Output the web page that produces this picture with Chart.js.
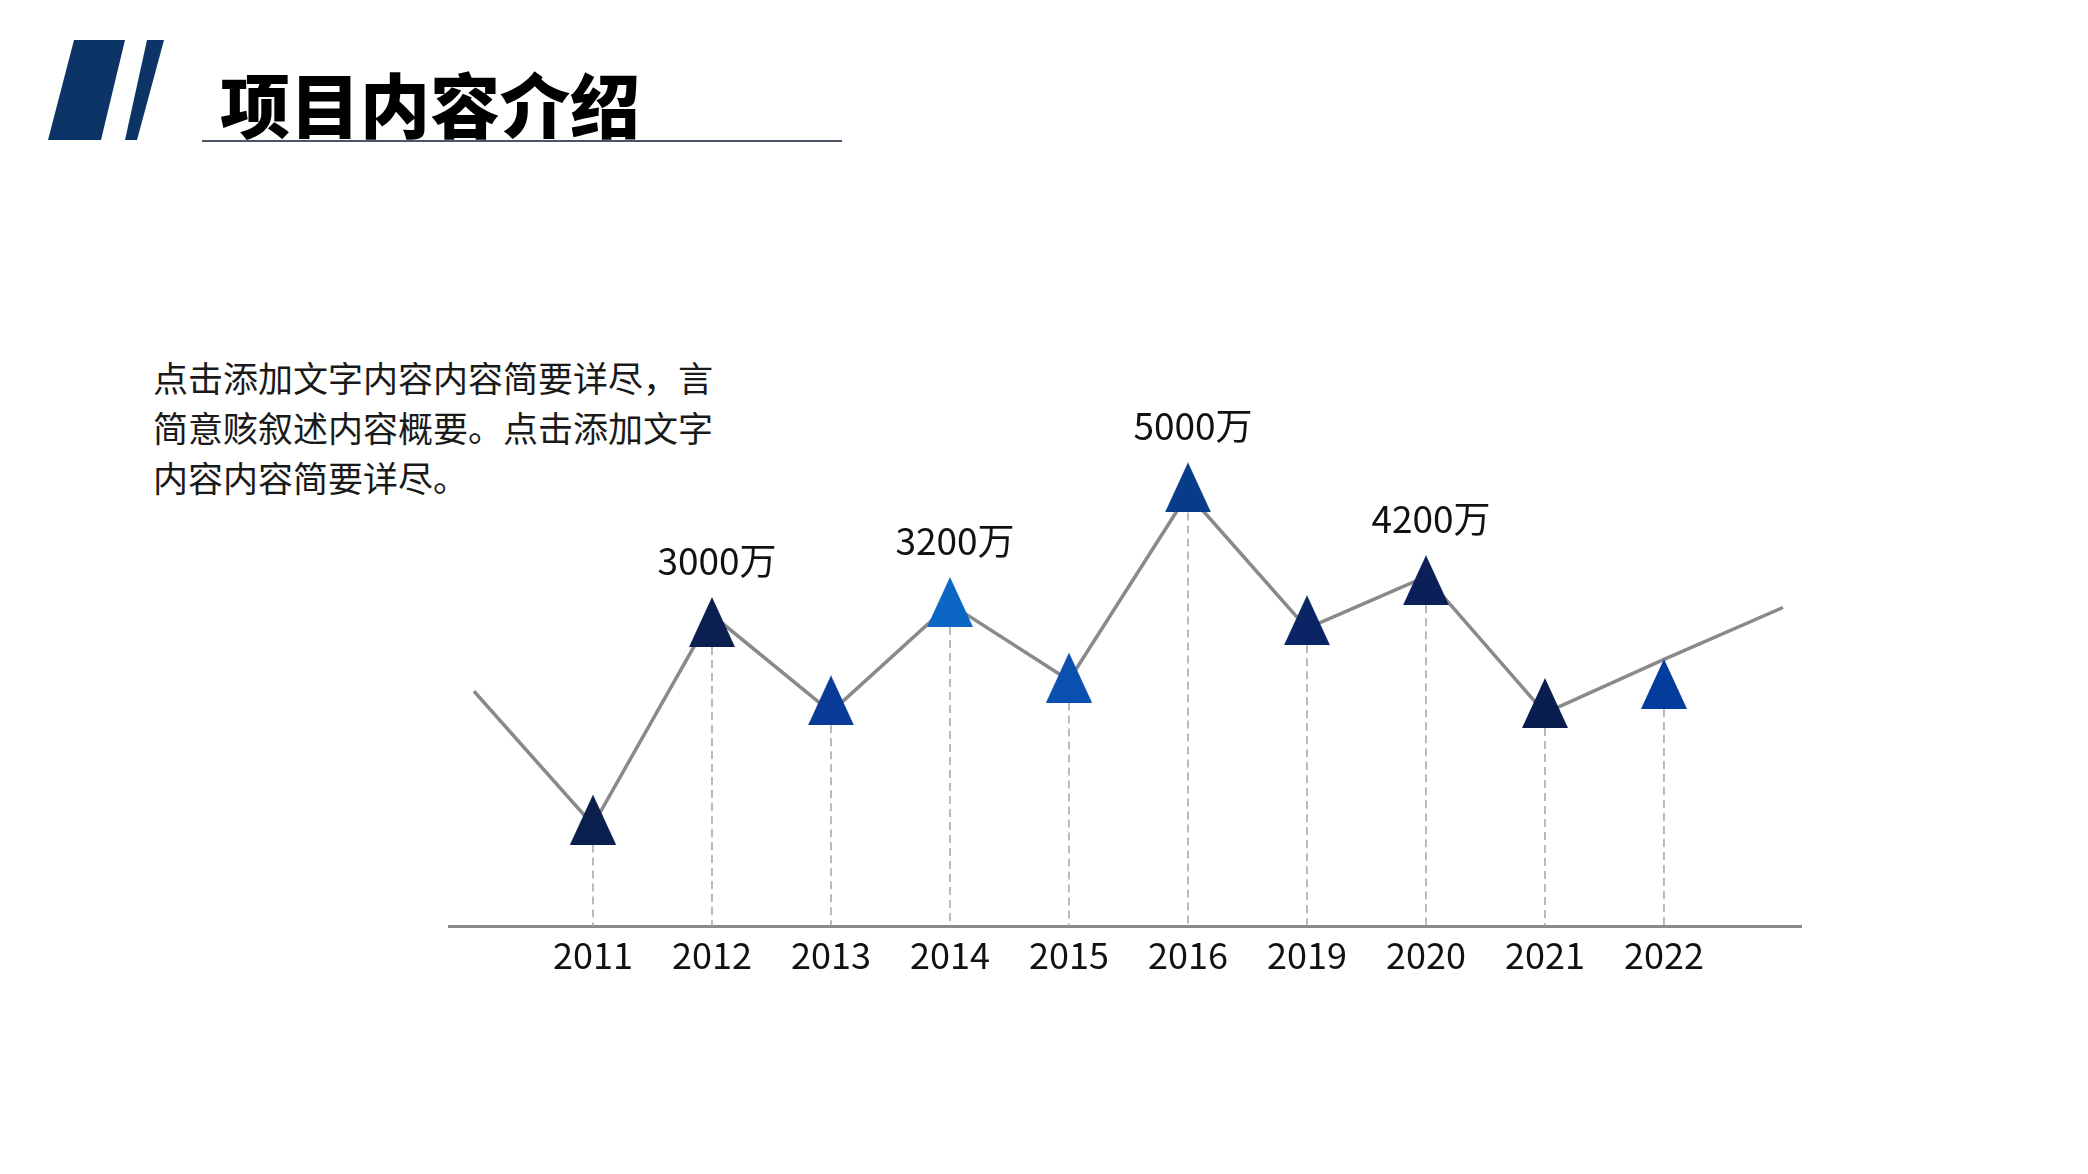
<!DOCTYPE html>
<html lang="zh">
<head>
    <meta charset="UTF-8">
    <title>项目内容介绍</title>
    <script src="https://cdn.jsdelivr.net/npm/chart.js"></script>
    <style>
        html, body { margin: 0; padding: 0; background: #fff; }
        body { width: 2088px; height: 1174px; position: relative; overflow: hidden;
               font-family: "Noto Sans CJK SC", "Noto Sans", sans-serif; }
        #logo { position: absolute; left: 0; top: 0; }
        #title { position: absolute; left: 220px; top: 68px; font-size: 70px; line-height: 1;
                 font-weight: 900; color: #000; letter-spacing: 0; }
        #underline { position: absolute; left: 202px; top: 140px; width: 640px; height: 2px; background: #4a5566; }
        #desc { position: absolute; left: 153px; top: 352px; font-size: 35px; line-height: 50px; color: #1a1a1a; }
        #chartBox { position: absolute; left: 448px; top: 380px; }
    </style>
</head>
<body>
    <svg id="logo" width="200" height="160">
        <polygon points="74,40 125,40 101,140 48,140" fill="#0c3466"/>
        <polygon points="147,40 164,40 137,140 125,140" fill="#0c3466"/>
    </svg>
    <div id="title">项目内容介绍</div>
    <div id="underline"></div>
    <div id="desc">点击添加文字内容内容简要详尽，言<br>简意赅叙述内容概要。点击添加文字<br>内容内容简要详尽。</div>
    <div id="chartBox"><canvas id="trendChart" width="1354" height="620"></canvas></div>
    <script>
        // years shown on the axis
        var years = ['2011', '2012', '2013', '2014', '2015', '2016', '2019', '2020', '2021', '2022'];
        // marker values (万)
        var markerValues = [1170, 3340, 2480, 3560, 2730, 4820, 3360, 3800, 2450, 2660];
        // the grey line: lead-in point, one per year, tail point
        var lineValues = [2580, 1110, 3420, 2350, 3540, 2700, 4750, 3270, 3840, 2340, 2930, 3500];
        // text shown above some markers
        var valueLabels = ['', '3000万', '', '3200万', '', '5000万', '', '4200万', '', ''];
        var markerColors = ['#0b1f4f', '#0b1f50', '#083a96', '#0b66c4', '#0a50ae',
                            '#083c88', '#0b2466', '#0b2059', '#091e4e', '#033c9d'];

        var TRI_W = 46, TRI_H = 50;
        function triangle(color) {
            var c = document.createElement('canvas');
            c.width = TRI_W; c.height = TRI_H;
            var g = c.getContext('2d');
            g.fillStyle = color;
            g.beginPath();
            g.moveTo(TRI_W / 2, 0);
            g.lineTo(TRI_W, TRI_H);
            g.lineTo(0, TRI_H);
            g.closePath();
            g.fill();
            return c;
        }

        // dashed drop lines from each marker down to the axis
        var dropLines = {
            id: 'dropLines',
            beforeDatasetsDraw: function(chart) {
                var ctx = chart.ctx, meta = chart.getDatasetMeta(0);
                ctx.save();
                ctx.strokeStyle = '#a3a3ab';
                ctx.lineWidth = 1.5;
                ctx.setLineDash([8, 5]);
                meta.data.forEach(function(pt) {
                    ctx.beginPath();
                    ctx.moveTo(pt.x, pt.y + TRI_H / 2);
                    ctx.lineTo(pt.x, chart.chartArea.bottom);
                    ctx.stroke();
                });
                ctx.restore();
            }
        };

        // "3000万" style labels over the markers
        var topLabels = {
            id: 'topLabels',
            afterDatasetsDraw: function(chart) {
                var ctx = chart.ctx, meta = chart.getDatasetMeta(0);
                ctx.save();
                ctx.font = '37px "Noto Sans CJK SC", "Noto Sans", sans-serif';
                ctx.fillStyle = '#111';
                ctx.textAlign = 'center';
                ctx.textBaseline = 'middle';
                meta.data.forEach(function(pt, i) {
                    if (valueLabels[i]) ctx.fillText(valueLabels[i], pt.x + 5, pt.y - TRI_H / 2 - 36);
                });
                ctx.restore();
            }
        };

        var ctx = document.getElementById('trendChart').getContext('2d');
        var trendChart = new Chart(ctx, {
            type: 'line',
            data: {
                datasets: [{
                    label: 'markers',
                    data: markerValues.map(function(v, i) { return { x: i + 1, y: v }; }),
                    showLine: false,
                    pointStyle: markerColors.map(triangle),
                    pointRadius: 25,
                    order: 0
                }, {
                    label: 'trend',
                    data: lineValues.map(function(v, i) { return { x: i, y: v }; }),
                    borderColor: '#8a8a8a',
                    borderWidth: 3.5,
                    pointRadius: 0,
                    tension: 0,
                    fill: false,
                    order: 1
                }]
            },
            options: {
                responsive: false,
                animation: false,
                devicePixelRatio: 1,
                layout: { padding: 0, autoPadding: false },
                plugins: { legend: { display: false }, tooltip: { enabled: false } },
                scales: {
                    x: {
                        type: 'linear',
                        min: -0.2185,
                        max: 11.16,
                        grid: { display: false, drawTicks: false },
                        border: { display: true, color: '#8a8a8a', width: 3 },
                        afterBuildTicks: function(scale) {
                            scale.ticks = years.map(function(_, i) { return { value: i + 1 }; });
                        },
                        afterFit: function(scale) { scale.height = 74; },
                        ticks: {
                            autoSkip: false,
                            maxRotation: 0,
                            padding: 8,
                            color: '#111',
                            font: { family: '"Noto Sans CJK SC", "Noto Sans", sans-serif', size: 36 },
                            callback: function(value) { return years[value - 1]; }
                        }
                    },
                    y: {
                        display: false,
                        min: 0,
                        max: 6000
                    }
                }
            },
            plugins: [dropLines, topLabels]
        });
    </script>
</body>
</html>
